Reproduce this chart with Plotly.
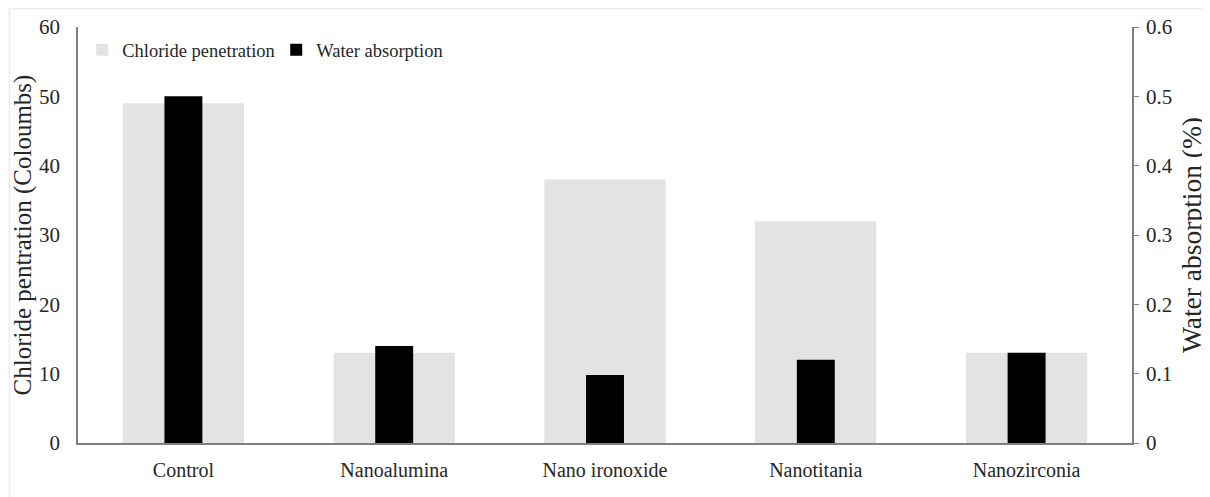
import plotly.graph_objects as go

categories = ["Control", "Nanoalumina", "Nano ironoxide", "Nanotitania", "Nanozirconia"]
chloride = [49, 13, 38, 32, 13]
water = [0.50, 0.14, 0.098, 0.12, 0.13]
left_ticks = [0, 10, 20, 30, 40, 50, 60]
right_ticks = [0, 0.1, 0.2, 0.3, 0.4, 0.5, 0.6]
right_ticktext = ["0", "0.1", "0.2", "0.3", "0.4", "0.5", "0.6"]

FONT = "Liberation Serif"
axis_col = "#7f7f7f"
text_col = "#262626"

def f(size):
    return dict(family=FONT, size=size, color=text_col)

fig = go.Figure()
fig.add_trace(go.Bar(x=categories, y=chloride, name="Chloride penetration",
                     marker=dict(color="#e3e3e3", line=dict(width=0)), width=0.575,
                     yaxis="y"))
fig.add_trace(go.Bar(x=categories, y=water, name="Water absorption",
                     marker=dict(color="#000000", line=dict(width=0)), width=0.18,
                     yaxis="y2"))

fig.update_layout(
    width=1210, height=497,
    margin=dict(l=70, r=86, t=19, b=62, autoexpand=False),
    paper_bgcolor="white", plot_bgcolor="white",
    barmode="overlay",
    font=f(20),
    showlegend=True,
    legend=dict(orientation="h", x=0.004, y=0.99, xanchor="left", yanchor="top",
                font=f(18.5), bgcolor="rgba(0,0,0,0)",
                itemwidth=30, traceorder="normal", entrywidth=149),
    xaxis=dict(showline=True, linecolor=axis_col, linewidth=1.5, ticks="",
               tickfont=f(20), showgrid=False, ticklabelstandoff=8, automargin=False),
    yaxis=dict(range=[0, 60], tickvals=left_ticks, showline=True, linecolor=axis_col,
               linewidth=1.5, ticks="", showgrid=False, zeroline=False, automargin=False,
               tickfont=f(21), ticklabelstandoff=12,
               title=dict(text="Chloride pentration (Coloumbs)", font=f(25), standoff=0)),
    yaxis2=dict(range=[0, 0.6], tickvals=right_ticks, ticktext=right_ticktext,
                overlaying="y", side="right", showline=True, linecolor=axis_col, linewidth=1.5,
                ticks="outside", ticklen=5, tickcolor=axis_col, showgrid=False, zeroline=False,
                automargin=False, tickfont=f(21), ticklabelstandoff=3,
                title=dict(text="Water absorption (%)", font=f(27.5), standoff=10)),
    shapes=[
        dict(type="line", xref="paper", yref="paper", x0=-0.065, x1=1.2, y0=1.0445, y1=1.0445,
             line=dict(color="#ececec", width=1.5), layer="below"),
        dict(type="line", xref="paper", yref="paper", x0=-0.065, x1=-0.065, y0=-0.2, y1=1.0445,
             line=dict(color="#ececec", width=1.5), layer="below"),
    ],
)

fig.write_html("out.html")
